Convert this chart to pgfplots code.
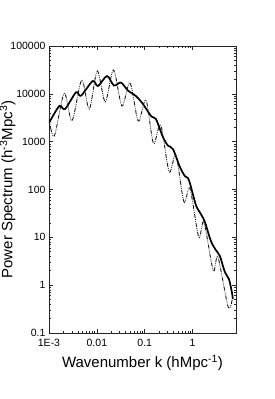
\documentclass[border=0pt]{standalone}
\usepackage{fontspec}
\setmainfont{Liberation Sans}
\usepackage{pgfplots}
\pgfplotsset{compat=1.18}
\begin{document}
\begin{tikzpicture}[x=1pt,y=1pt]
\path[use as bounding box] (0,0) rectangle (274,399);
\begin{axis}[
  at={(49pt,66pt)}, anchor=south west,
  scale only axis, width=187pt, height=287pt,
  xmode=log, ymode=log,
  xmin=0.001, xmax=8.05, ymin=0.1, ymax=100000,
  xtick={0.001,0.01,0.1,1}, xticklabels={1E-3,0.01,0.1,1},
  ytick={0.1,1,10,100,1000,10000,100000},
  yticklabels={0.1,1,10,100,1000,10000,100000},
  tick align=inside,
  major tick length=4pt, minor tick length=2pt,
  axis line style={black!85, line width=0.8pt},
  every tick/.style={black!85, line width=0.6pt},
  tick label style={font=\fontsize{10.5}{12}\selectfont},
  xticklabel style={yshift=-2.5pt},
  /pgf/number format/assume math mode=true,
  label style={font=\fontsize{15}{18}\selectfont},
  xlabel={Wavenumber k (hMpc\textsuperscript{-1})},
  ylabel={Power Spectrum (h\textsuperscript{-3}Mpc\textsuperscript{3})},
  xlabel style={at={(axis description cs:0.5,0)}, anchor=north, yshift=-19pt},
  ylabel style={at={(axis description cs:0,0.5)}, anchor=south, yshift=30pt},
  clip=true,
]
\addplot[black, line width=1.7pt, smooth] coordinates {
(0.001,2449) (0.00164,5559) (0.00216,4808) (0.00366,10740) (0.00466,9120)
(0.00817,18530) (0.01054,14550) (0.01626,23550) (0.02275,14930) (0.03187,17220)
(0.04457,11720) (0.06546,8990) (0.09166,6120) (0.1380,3350) (0.1714,2970)
(0.2399,1247) (0.3051,828) (0.3879,700) (0.5430,294) (0.6905,190)
(0.8375,157) (1.172,47.2) (1.490,30.6) (1.807,20.8) (2.410,8.34)
(3.064,5.40) (3.715,4.04) (4.722,1.87) (5.726,1.34) (6.61,0.71) (6.93,0.51)
};
\addplot[black!90, line width=0.9pt, smooth,
  dash pattern=on 4pt off 1.2pt on 0.8pt off 1.2pt on 0.8pt off 1.2pt] coordinates {
(0.001,2970) (0.00129,1310) (0.00208,10230) (0.00302,2735) (0.00482,19450)
(0.00694,4808) (0.01019,29990) (0.01496,6840) (0.02223,31480) (0.03342,5560)
(0.04913,17060) (0.07315,2700) (0.1059,7420) (0.1521,920) (0.2148,2225)
(0.3246,234) (0.4478,525) (0.6579,55.3) (0.8786,105) (1.339,10.2)
(1.721,20.8) (2.692,2.01) (3.373,3.85) (5.53,0.35) (6.78,0.53)
};
\end{axis}
\end{tikzpicture}
\end{document}
